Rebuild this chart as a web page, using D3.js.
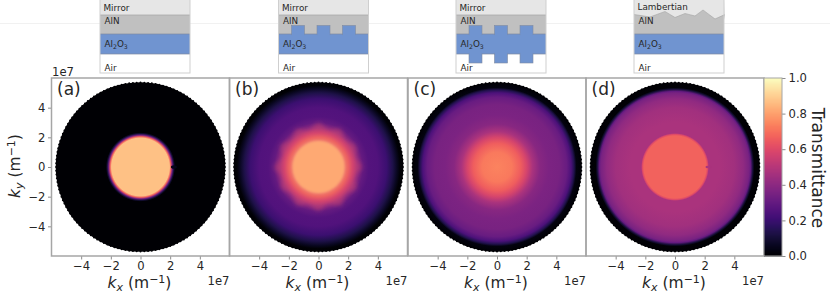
<!DOCTYPE html>
<html>
<head>
<meta charset="utf-8">
<script src="https://d3js.org/d3.v7.min.js"></script>
<style>
  html, body { margin: 0; padding: 0; background: #fff; }
  svg { display: block; }
  text { font-family: "DejaVu Sans", sans-serif; fill: #262626; }
</style>
</head>
<body>
<div class="chart"></div>
<script>
// radial transmittance profiles (kr in units of 1e7 m^-1)
var panelNames = ["(a)", "(b)", "(c)", "(d)"];
var radiusA = [0, 1.95, 2.05, 2.15, 2.25, 2.33, 5.72];
var valuesA = [0.87, 0.87, 0.66, 0.32, 0.1, 0, 0];
var radiusB = [0, 1.7, 2.0, 2.3, 2.6, 3.0, 3.4, 4.0, 4.6, 5.0, 5.3, 5.5, 5.72];
var valuesB = [0.82, 0.81, 0.7, 0.56, 0.42, 0.3, 0.26, 0.25, 0.2, 0.13, 0.06, 0.01, 0];
var radiusC = [0, 1.0, 1.6, 2.0, 2.4, 2.9, 3.5, 4.2, 4.7, 5.0, 5.2, 5.35, 5.72];
var valuesC = [0.74, 0.72, 0.66, 0.58, 0.47, 0.39, 0.36, 0.35, 0.31, 0.24, 0.14, 0.03, 0];
var radiusD = [0, 2.1, 2.2, 2.28, 3.0, 4.0, 4.6, 5.0, 5.1, 5.25, 5.35, 5.72];
var valuesD = [0.67, 0.67, 0.6, 0.47, 0.47, 0.45, 0.41, 0.35, 0.3, 0.1, 0.01, 0];

// lobes around the bright disc of (b): outline radius going round every 15 degrees
var lobeRadiiB = [3.0, 2.6, 2.95, 2.55, 2.9, 2.6, 2.95, 2.55, 2.95, 2.6, 3.0, 2.55,
                  2.95, 2.6, 2.95, 2.55, 2.9, 2.6, 3.0, 2.55, 2.95, 2.6, 2.95, 2.55];

// tick labels
var xTicks = [-4, -2, 0, 2, 4];
var yTicks = [-4, -2, 0, 2, 4];
var colorTicks = [0, 0.2, 0.4, 0.6, 0.8, 1];

// layer stack drawings on top, in 0-90 x 0-73 sketch units
var sketchNames = ["Mirror", "Mirror", "Mirror", "Lambertian"];
var bumpStarts = [13, 38.5, 64];
var bumpsTop = [false, true, true, false];
var bumpsBottom = [false, false, true, false];
var roughX = [0, 16, 31, 41, 51, 61, 69, 81, 91];
var roughY = [14.5, 17, 11.5, 17.5, 13.5, 16, 10, 19, 14.5];

var svgWidth = 830;
var svgHeight = 299;

var panelLeft = [51.5, 229.5, 408, 586];
var panelWidth = 178;
var panelTop = 78;
var panelHeight = 178;

var svg = d3.select(".chart").append("svg")
  .attr("width", svgWidth)
  .attr("height", svgHeight);

var defs = svg.append("defs");
var colorScale = d3.scaleSequential(d3.interpolateMagma).domain([0, 1]);

defs.append("filter").attr("id", "softCore")
  .attr("x", "-20%").attr("y", "-20%").attr("width", "140%").attr("height", "140%")
  .append("feGaussianBlur").attr("stdDeviation", 1.2);
defs.append("filter").attr("id", "softLobe")
  .attr("x", "-20%").attr("y", "-20%").attr("width", "140%").attr("height", "140%")
  .append("feGaussianBlur").attr("stdDeviation", 2.2);

// faint rule behind the sketches
svg.append("line")
  .attr("x1", 0).attr("x2", svgWidth).attr("y1", 23.5).attr("y2", 23.5)
  .attr("stroke", "#f1f1f1");

// layer stack sketches
var sketchLeft = [100, 278.5, 456, 634];
sketchNames.forEach(function(name, i) {
  var g = svg.append("g").attr("transform", `translate(${sketchLeft[i]}, 0)`);
  var sx = d3.scaleLinear().domain([0, 90]).range([0, 90]);
  var sy = d3.scaleLinear().domain([0, 73]).range([0, 73]);

  g.append("rect").attr("x", sx(0)).attr("y", sy(0)).attr("width", sx(90)).attr("height", sy(15)).attr("fill", "#e6e6e6");
  g.append("rect").attr("x", sx(0)).attr("y", sy(15)).attr("width", sx(90)).attr("height", sy(19)).attr("fill", "#c0c0c0");
  g.append("rect").attr("x", sx(0)).attr("y", sy(34)).attr("width", sx(90)).attr("height", sy(20)).attr("fill", "#7094d0");
  g.append("rect").attr("x", sx(0)).attr("y", sy(54)).attr("width", sx(90)).attr("height", sy(19)).attr("fill", "#fff");

  var edge = "#7f8ba0";
  g.append("line").attr("x1", 0).attr("x2", 90).attr("y1", sy(34)).attr("y2", sy(34)).attr("stroke", edge).attr("stroke-width", 0.7);
  g.append("line").attr("x1", 0).attr("x2", 90).attr("y1", sy(54)).attr("y2", sy(54)).attr("stroke", edge).attr("stroke-width", 0.7);

  if (bumpsTop[i]) {
    bumpStarts.forEach(function(b) {
      g.append("rect").attr("x", sx(b)).attr("y", sy(25.5)).attr("width", 13).attr("height", sy(9)).attr("fill", "#7094d0").attr("stroke", edge).attr("stroke-width", 0.6);
      g.append("rect").attr("x", sx(b) + 0.4).attr("y", sy(33)).attr("width", 12.2).attr("height", sy(3)).attr("fill", "#7094d0");
    });
  }
  if (bumpsBottom[i]) {
    bumpStarts.forEach(function(b) {
      g.append("rect").attr("x", sx(b)).attr("y", sy(54)).attr("width", 13).attr("height", sy(9)).attr("fill", "#7094d0").attr("stroke", edge).attr("stroke-width", 0.6);
      g.append("rect").attr("x", sx(b) + 0.4).attr("y", sy(52)).attr("width", 12.2).attr("height", sy(3)).attr("fill", "#7094d0");
    });
  }
  if (name === "Lambertian") {
    var rough = roughX.map(function(d, j) { return [sx(d), sy(roughY[j])]; });
    g.append("path")
      .attr("d", d3.line()(rough.concat([[sx(90), sy(20)], [sx(0), sy(20)]])))
      .attr("fill", "#c0c0c0");
    g.append("path")
      .attr("d", d3.line()(rough.concat([[sx(90), sy(0)], [sx(0), sy(0)]])))
      .attr("fill", "#e6e6e6");
    g.append("path")
      .attr("d", d3.line()(rough))
      .attr("fill", "none").attr("stroke", "#a8a8a8").attr("stroke-width", 0.7);
  } else {
    g.append("line").attr("x1", 0).attr("x2", 90).attr("y1", sy(15)).attr("y2", sy(15)).attr("stroke", "#a8a8a8").attr("stroke-width", 0.8);
  }

  g.append("rect").attr("x", 0).attr("y", -1).attr("width", 90).attr("height", 74)
    .attr("fill", "none").attr("stroke", "#cfcfcf").attr("stroke-width", 1);

  var labels = g.append("g").style("font-size", "8.8px");
  labels.append("text").attr("x", 3.5).attr("y", name === "Lambertian" ? 10 : 11).text(name);
  labels.append("text").attr("x", 4.5).attr("y", 24).text("AlN");
  var alo = labels.append("text").attr("x", 4.5).attr("y", 47);
  alo.append("tspan").text("Al");
  alo.append("tspan").attr("dy", 2).style("font-size", "6.2px").text("2");
  alo.append("tspan").attr("dy", -2).text("O");
  alo.append("tspan").attr("dy", 2).style("font-size", "6.2px").text("3");
  labels.append("text").attr("x", 4.5).attr("y", 71).text("Air");
});

// profile arrays by panel
var panelRadii = [radiusA, radiusB, radiusC, radiusD];
var panelValues = [valuesA, valuesB, valuesC, valuesD];

panelNames.forEach(function(name, i) {
  var chartGroup = svg.append("g")
    .attr("transform", `translate(${panelLeft[i]}, ${panelTop})`);

  var xScale = d3.scaleLinear().domain([-6, 6]).range([0, panelWidth]);
  var yScale = d3.scaleLinear().domain([-6, 6]).range([panelHeight, 0]);
  var rScale = d3.scaleLinear().domain([0, 12]).range([0, panelWidth]);

  var radii = panelRadii[i];
  var values = panelValues[i];
  var rMax = d3.max(radii);

  var grad = defs.append("radialGradient").attr("id", "disc" + i)
    .attr("gradientUnits", "userSpaceOnUse")
    .attr("cx", 0).attr("cy", 0).attr("r", rScale(rMax));
  grad.selectAll("stop")
    .data(radii)
    .enter()
    .append("stop")
    .attr("offset", d => d / rMax)
    .attr("stop-color", (d, j) => colorScale(values[j]));

  var discGroup = chartGroup.append("g")
    .attr("transform", `translate(${xScale(0)}, ${yScale(0)})`);

  discGroup.append("circle")
    .attr("r", rScale(rMax))
    .attr("fill", `url(#disc${i})`);

  // scalloped rim left by the sampling points
  var rimAngles = d3.range(0, 2 * Math.PI, 2 * Math.PI / 140);
  discGroup.selectAll("circle.rim")
    .data(rimAngles)
    .enter()
    .append("circle")
    .attr("class", "rim")
    .attr("cx", d => rScale(rMax - 0.03) * Math.cos(d))
    .attr("cy", d => rScale(rMax - 0.03) * Math.sin(d))
    .attr("r", 1)
    .attr("fill", colorScale(0));

  if (name === "(b)") {
    // petals sit between the bright core and the dim plateau
    var petal = d3.lineRadial()
      .angle((d, j) => j * 2 * Math.PI / lobeRadiiB.length)
      .radius(d => rScale(d))
      .curve(d3.curveCardinalClosed);
    discGroup.append("path")
      .attr("d", petal(lobeRadiiB))
      .attr("fill", colorScale(0.6))
      .attr("fill-opacity", 0.38)
      .attr("filter", "url(#softLobe)");
    discGroup.append("circle")
      .attr("r", rScale(1.75))
      .attr("fill", colorScale(0.82))
      .attr("filter", "url(#softCore)");
  }

  // small dark notch on the +kx side of the disc
  if (name === "(a)" || name === "(d)") {
    discGroup.append("ellipse")
      .attr("cx", rScale(2.25))
      .attr("cy", 0)
      .attr("rx", 3)
      .attr("ry", name === "(a)" ? 1.8 : 1.3)
      .attr("fill", name === "(a)" ? colorScale(0.05) : colorScale(0.47));
  }

  // axes
  var xAxis = d3.axisBottom(xScale).tickValues(xTicks).tickSize(3.5).tickPadding(2.5).tickFormat(d => d < 0 ? "\u2212" + Math.abs(d) : d);
  var xG = chartGroup.append("g")
    .attr("transform", `translate(0, ${panelHeight})`)
    .call(xAxis);
  styleAxis(xG);

  if (i === 0) {
    var yAxis = d3.axisLeft(yScale).tickValues(yTicks).tickSize(3.5).tickPadding(2.5).tickFormat(d => d < 0 ? "\u2212" + Math.abs(d) : d);
    var yG = chartGroup.append("g").call(yAxis);
    styleAxis(yG);
    yG.select(".domain").remove();
  }

  // frame
  chartGroup.append("rect")
    .attr("width", panelWidth)
    .attr("height", panelHeight)
    .attr("fill", "none")
    .attr("stroke", "#a6a6a6")
    .attr("stroke-width", 1.5);

  chartGroup.append("text")
    .attr("x", 5.5)
    .attr("y", 16.5)
    .style("font-size", "17px")
    .text(name);

  // x label
  var xLabel = chartGroup.append("text")
    .attr("x", panelWidth / 2 - 1)
    .attr("y", 210)
    .attr("text-anchor", "middle")
    .style("font-size", "15.5px");
  addLabel(xLabel, "x");

  // offset text
  chartGroup.append("text")
    .attr("x", panelWidth)
    .attr("y", 206.5)
    .attr("text-anchor", "end")
    .style("font-size", "11.6px")
    .text("1e7");
});

// y label and top offset on the first panel
var yLabel = svg.append("text")
  .attr("transform", `translate(20, ${panelTop + panelHeight / 2 - 1}) rotate(-90)`)
  .attr("text-anchor", "middle")
  .style("font-size", "15.5px");
addLabel(yLabel, "y");

svg.append("text")
  .attr("x", 52)
  .attr("y", 76)
  .style("font-size", "11.6px")
  .text("1e7");

// colorbar
var barLeft = 764;
var barWidth = 18;
var barScale = d3.scaleLinear().domain([0, 1]).range([panelHeight, 0]);
var barGroup = svg.append("g").attr("transform", `translate(${barLeft}, ${panelTop})`);

barGroup.selectAll("rect")
  .data(d3.range(0, 1, 1 / 178))
  .enter()
  .append("rect")
  .attr("x", 0)
  .attr("y", d => barScale(d + 1 / 178))
  .attr("width", barWidth)
  .attr("height", panelHeight / 178 + 0.5)
  .attr("fill", d => colorScale(d));

var barAxis = d3.axisRight(barScale).tickValues(colorTicks).tickSize(3.5).tickPadding(3).tickFormat(d3.format(".1f"));
var barAxisG = barGroup.append("g")
  .attr("transform", `translate(${barWidth}, 0)`)
  .call(barAxis);
styleAxis(barAxisG);
barAxisG.select(".domain").remove();

barGroup.append("rect")
  .attr("width", barWidth)
  .attr("height", panelHeight)
  .attr("fill", "none")
  .attr("stroke", "#a6a6a6")
  .attr("stroke-width", 1);

svg.append("text")
  .attr("transform", `translate(812, ${panelTop + panelHeight / 2 + 1}) rotate(90)`)
  .attr("text-anchor", "middle")
  .style("font-size", "17px")
  .text("Transmittance");

function styleAxis(g) {
  g.selectAll("text").style("font-size", "11.6px").attr("fill", null);
  g.selectAll("line").attr("stroke", "#8c8c8c");
  g.select(".domain").attr("stroke", "none");
}

// k_x (m^-1) style label
function addLabel(t, sub) {
  t.append("tspan").style("font-style", "italic").text("k");
  t.append("tspan").style("font-style", "italic").style("font-size", "11px").attr("dy", 3).text(sub);
  t.append("tspan").attr("dy", -3).text(" (m");
  t.append("tspan").style("font-size", "11px").attr("dy", -5.5).text("\u22121");
  t.append("tspan").attr("dy", 5.5).text(")");
}
</script>
</body>
</html>
